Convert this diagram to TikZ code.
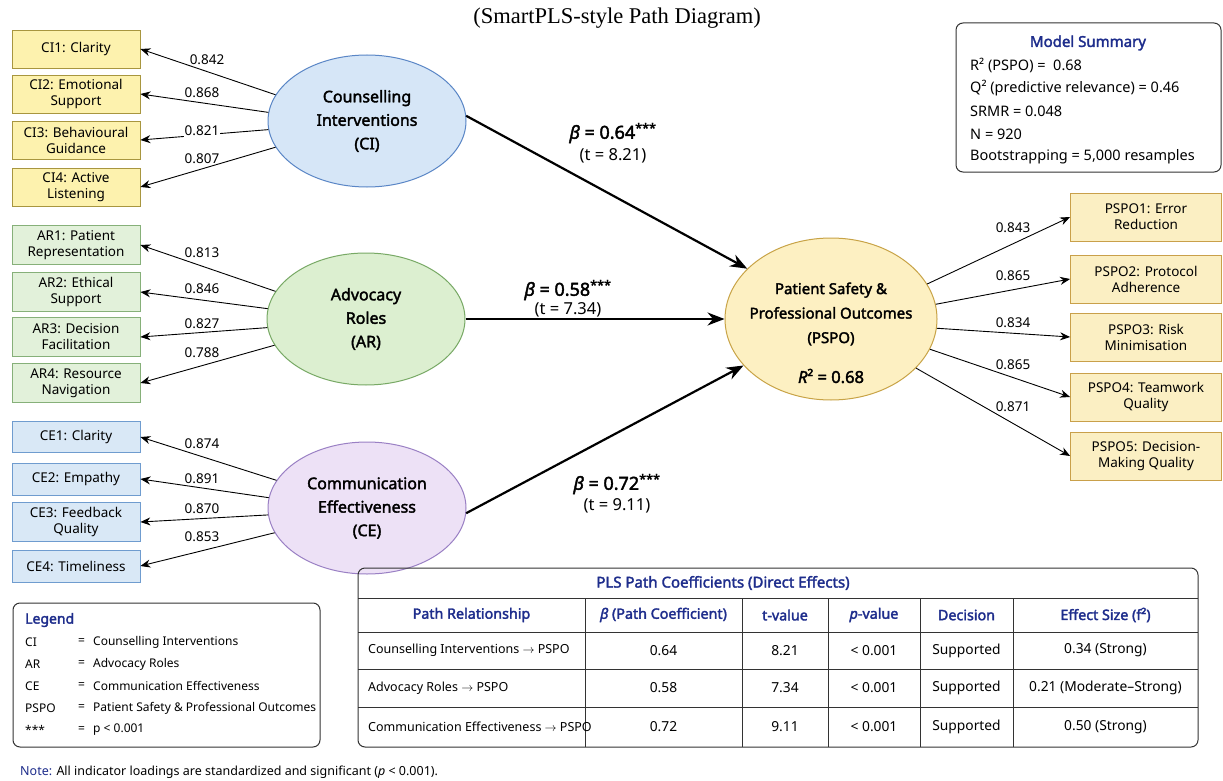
\documentclass[tikz,border=0pt]{standalone}
\usepackage{fontspec}
\setmainfont{Noto Sans}[BoldFont={Noto Sans}, BoldFeatures={FakeBold=2.2}, BoldItalicFont={Noto Sans/I}, BoldItalicFeatures={FakeBold=2.2}]
\setsansfont{Noto Sans}[BoldFont={Noto Sans}, BoldFeatures={FakeBold=2.2}, BoldItalicFont={Noto Sans/I}, BoldItalicFeatures={FakeBold=2.2}]
\newfontfamily\titlefont{Liberation Serif}
\usetikzlibrary{shapes.geometric,arrows.meta}
\definecolor{navy}{HTML}{1E2D8C}
\definecolor{ciboxfill}{HTML}{FDF2AE}
\definecolor{ciboxdraw}{HTML}{A8963F}
\definecolor{arboxfill}{HTML}{E2F1DA}
\definecolor{arboxdraw}{HTML}{86B079}
\definecolor{ceboxfill}{HTML}{D9E8F6}
\definecolor{ceboxdraw}{HTML}{6F9CCF}
\definecolor{psboxfill}{HTML}{FBEFC3}
\definecolor{psboxdraw}{HTML}{C9A04A}
\definecolor{cifill}{HTML}{D6E6F7}
\definecolor{cidraw}{HTML}{5A86C6}
\definecolor{arfill}{HTML}{DCEFD0}
\definecolor{ardraw}{HTML}{78A965}
\definecolor{cefill}{HTML}{EDE1F6}
\definecolor{cedraw}{HTML}{9A80C4}
\definecolor{psfill}{HTML}{FDF0C2}
\definecolor{psdraw}{HTML}{C8A346}
\newcommand\myfs[2]{\fontsize{#1}{#2}\selectfont}
\begin{document}
\begin{tikzpicture}[x=1pt,y=-1pt,
  ind/.style={draw, line width=0.8pt, rectangle, minimum width=128pt, align=center, font=\myfs{13.5}{16}, inner sep=1pt},
  ciind/.style={ind, fill=ciboxfill, draw=ciboxdraw, minimum height=38pt},
  arind/.style={ind, fill=arboxfill, draw=arboxdraw, minimum height=39pt},
  ceind/.style={ind, fill=ceboxfill, draw=ceboxdraw},
  psind/.style={ind, fill=psboxfill, draw=psboxdraw, minimum width=151pt, minimum height=48pt},
  latent/.style={ellipse, line width=1pt, align=center, font=\bfseries\myfs{16}{23.5}, inner sep=0pt, minimum width=198pt, minimum height=132pt},
  load/.style={font=\myfs{13.5}{16}, inner sep=1pt},
  larr/.style={-{Stealth[length=10pt,width=8pt]}, line width=0.9pt},
  parr/.style={-{Stealth[length=17pt,width=13pt]}, line width=2.2pt},
  betalab/.style={font=\bfseries\myfs{18}{21}, inner sep=0pt},
  tval/.style={font=\myfs{16.5}{19}, inner sep=0pt},
  boxed/.style={draw=black!80, line width=1pt, rounded corners=7pt},
  summ/.style={anchor=west, font=\myfs{14.5}{17}, inner sep=0pt},
  thead/.style={font=\bfseries\myfs{14.3}{16}, text=navy, inner sep=0pt},
  tcell/.style={font=\myfs{13.8}{16}, inner sep=0pt},
  tfirst/.style={font=\myfs{12.5}{15}, inner sep=0pt, anchor=west},
  leg/.style={font=\myfs{12}{14}, inner sep=0pt, anchor=west}
]
\useasboundingbox (0,0) rectangle (1223,781);
\fill[white] (0,0) rectangle (1223,781);

% title
\node[font=\titlefont\myfs{22.5}{26}] (title) at (617,18) {(SmartPLS-style Path Diagram)};

% latent constructs
\node[latent, fill=cifill, draw=cidraw] (ci) at (367,121) {Counselling\\Interventions\\(CI)};
\node[latent, fill=arfill, draw=ardraw] (ar) at (366,319) {Advocacy\\Roles\\(AR)};
\node[latent, fill=cefill, draw=cedraw] (ce) at (367,508) {Communication\\Effectiveness\\(CE)};
\node[ellipse, line width=1pt, fill=psfill, draw=psdraw, minimum width=212pt, minimum height=162pt, inner sep=0pt] (pspo) at (831,319) {};
\node[align=center, font=\bfseries\myfs{15}{24.5}, inner sep=0pt] (pspotxt) at (831,314) {Patient Safety \&\\Professional Outcomes\\(PSPO)};
\node[font=\bfseries\myfs{16.5}{19}, inner sep=0pt] (pspor) at (831,376) {{\itshape R}² = 0.68};

% CI indicators
\node[ciind] (ci1) at (76,49) {CI1: Clarity};
\node[ciind] (ci2) at (76,94) {CI2: Emotional\\Support};
\node[ciind] (ci3) at (76,140) {CI3: Behavioural\\Guidance};
\node[ciind] (ci4) at (76,187) {CI4: Active\\Listening};
% AR indicators
\node[arind] (ar1) at (76,245) {AR1: Patient\\Representation};
\node[arind] (ar2) at (76,292) {AR2: Ethical\\Support};
\node[arind] (ar3) at (76,337) {AR3: Decision\\Facilitation};
\node[arind] (ar4) at (76,383) {AR4: Resource\\Navigation};
% CE indicators
\node[ceind, minimum height=31pt] (ce1) at (76,437) {CE1: Clarity};
\node[ceind, minimum height=32pt] (ce2) at (76,479) {CE2: Empathy};
\node[ceind, minimum height=39pt] (ce3) at (76,522) {CE3: Feedback\\Quality};
\node[ceind, minimum height=32pt] (ce4) at (76,566) {CE4: Timeliness};
% PSPO indicators
\node[psind] (ps1) at (1146,217) {PSPO1: Error\\Reduction};
\node[psind] (ps2) at (1146,279) {PSPO2: Protocol\\Adherence};
\node[psind] (ps3) at (1146,337) {PSPO3: Risk\\Minimisation};
\node[psind] (ps4) at (1146,397) {PSPO4: Teamwork\\Quality};
\node[psind] (ps5) at (1146,456) {PSPO5: Decision-\\Making Quality};

% loading arrows
\draw[larr] (ci.164) -- (ci1.east);
\draw[larr] (ci.175) -- (ci2.east);
\draw[larr] (ci.185) -- (ci3.east);
\draw[larr] (ci.196) -- (ci4.east);
\draw[larr] (ar.163) -- (ar1.east);
\draw[larr] (ar.174) -- (ar2.east);
\draw[larr] (ar.185) -- (ar3.east);
\draw[larr] (ar.196) -- (ar4.east);
\draw[larr] (ce.163) -- (ce1.east);
\draw[larr] (ce.174) -- (ce2.east);
\draw[larr] (ce.184) -- (ce3.east);
\draw[larr] (ce.195) -- (ce4.east);
\draw[larr] (pspo.20) -- (ps1.west);
\draw[larr] (pspo.8) -- (ps2.west);
\draw[larr] (pspo.-5) -- (ps3.west);
\draw[larr] (pspo.-17) -- (ps4.west);
\draw[larr] (pspo.-30) -- (ps5.west);

% loading labels
\node[load] (lci1) at (207,60) {0.842};
\node[load] (lci2) at (202,93) {0.868};
\node[load, fill=white] (lci3) at (202,131) {0.821};
\node[load] (lci4) at (202,159) {0.807};
\node[load] (lar1) at (202,253) {0.813};
\node[load] (lar2) at (202,289) {0.846};
\node[load] (lar3) at (202,324) {0.827};
\node[load] (lar4) at (202,353) {0.788};
\node[load] (lce1) at (202,444) {0.874};
\node[load] (lce2) at (202,479) {0.891};
\node[load] (lce3) at (202,509) {0.870};
\node[load] (lce4) at (202,537) {0.853};
\node[load] (lps1) at (1013,228) {0.843};
\node[load] (lps2) at (1013,276) {0.865};
\node[load] (lps3) at (1013,323) {0.834};
\node[load] (lps4) at (1013,365) {0.865};
\node[load] (lps5) at (1013,407) {0.871};

% structural paths
\draw[parr] (ci.3) -- (pspo.149);
\draw[parr] (ar.east) -- (pspo.west);
\draw[parr] (ce.357) -- (pspo.208);
\node[betalab] (b1) at (613,133) {{\itshape β} = 0.64\textsuperscript{***}};
\node[tval] (t1) at (613,156) {(t = 8.21)};
\node[betalab] (b2) at (568,290) {{\itshape β} = 0.58\textsuperscript{***}};
\node[tval] (t2) at (568,310) {(t = 7.34)};
\node[betalab] (b3) at (617,484) {{\itshape β} = 0.72\textsuperscript{***}};
\node[tval] (t3) at (617,506) {(t = 9.11)};

% model summary
\draw[boxed] (956,23) rectangle (1221,172);
\node[font=\bfseries\myfs{15}{18}, text=navy, inner sep=0pt] (mstitle) at (1088,43) {Model Summary};
\node[summ] (ms1) at (970,65) {R² (PSPO) = ~0.68};
\node[summ] (ms2) at (970,88.5) {Q² (predictive relevance) = 0.46};
\node[summ] (ms3) at (970,111) {SRMR = 0.048};
\node[summ] (ms4) at (970,134) {N = 920};
\node[summ] (ms5) at (970,157) {Bootstrapping = 5,000 resamples};

% table
\draw[boxed] (358,568) rectangle (1198,747);
\foreach \yy in {598,632,669,707} \draw[black!80, line width=1pt] (358,\yy) -- (1198,\yy);
\foreach \xx in {585,742,828,920,1013} \draw[black!80, line width=1pt] (\xx,598) -- (\xx,747);
\node[thead, font=\bfseries\myfs{15}{17}] (ttitle) at (723,583) {PLS Path Coefficients (Direct Effects)};
\node[thead] (h1) at (471.5,615) {Path Relationship};
\node[thead] (h2) at (663.5,615) {{\itshape β} (Path Coefficient)};
\node[thead] (h3) at (785,615) {t-value};
\node[thead] (h4) at (874,615) {{\itshape p}-value};
\node[thead] (h5) at (966.5,615) {Decision};
\node[thead] (h6) at (1105.5,615) {Effect Size (f²)};
\node[tfirst] (r1c1) at (368,650.5) {Counselling Interventions $\rightarrow$ PSPO};
\node[tfirst] (r2c1) at (368,688) {Advocacy Roles $\rightarrow$ PSPO};
\node[tfirst] (r3c1) at (368,727) {Communication Effectiveness $\rightarrow$ PSPO};
\node[tcell] (r1c2) at (663.5,650.5) {0.64};
\node[tcell] (r2c2) at (663.5,688) {0.58};
\node[tcell] (r3c2) at (663.5,727) {0.72};
\node[tcell] (r1c3) at (785,650.5) {8.21};
\node[tcell] (r2c3) at (785,688) {7.34};
\node[tcell] (r3c3) at (785,727) {9.11};
\node[tcell] (r1c4) at (874,650.5) {< 0.001};
\node[tcell] (r2c4) at (874,688) {< 0.001};
\node[tcell] (r3c4) at (874,727) {< 0.001};
\node[tcell] (r1c5) at (966.5,650.5) {Supported};
\node[tcell] (r2c5) at (966.5,688) {Supported};
\node[tcell] (r3c5) at (966.5,727) {Supported};
\node[tcell] (r1c6) at (1105.5,650.5) {0.34 (Strong)};
\node[tcell] (r2c6) at (1105.5,688) {0.21 (Moderate–Strong)};
\node[tcell] (r3c6) at (1105.5,727) {0.50 (Strong)};

% legend
\draw[boxed] (13,603) rectangle (320,747);
\node[font=\bfseries\myfs{14}{17}, text=navy, inner sep=0pt, anchor=west] (legtitle) at (25,620) {Legend};
\foreach \ab/\df/\yy/\nm in {CI/Counselling Interventions/642/a,AR/Advocacy Roles/664/b,CE/Communication Effectiveness/686/c,PSPO/Patient Safety \& Professional Outcomes/708/d,***/p < 0.001/730/e}{
  \node[leg] (lg\nm1) at (25,\yy) {\ab};
  \node[leg] (lg\nm2) at (78,\yy) {=};
  \node[leg] (lg\nm3) at (93,\yy) {\df};
}

% note
\node[leg, font=\myfs{12.5}{14}] (note) at (20,772) {{\color{navy}Note:} All indicator loadings are standardized and significant ({\itshape p} < 0.001).};
\end{tikzpicture}
\end{document}
